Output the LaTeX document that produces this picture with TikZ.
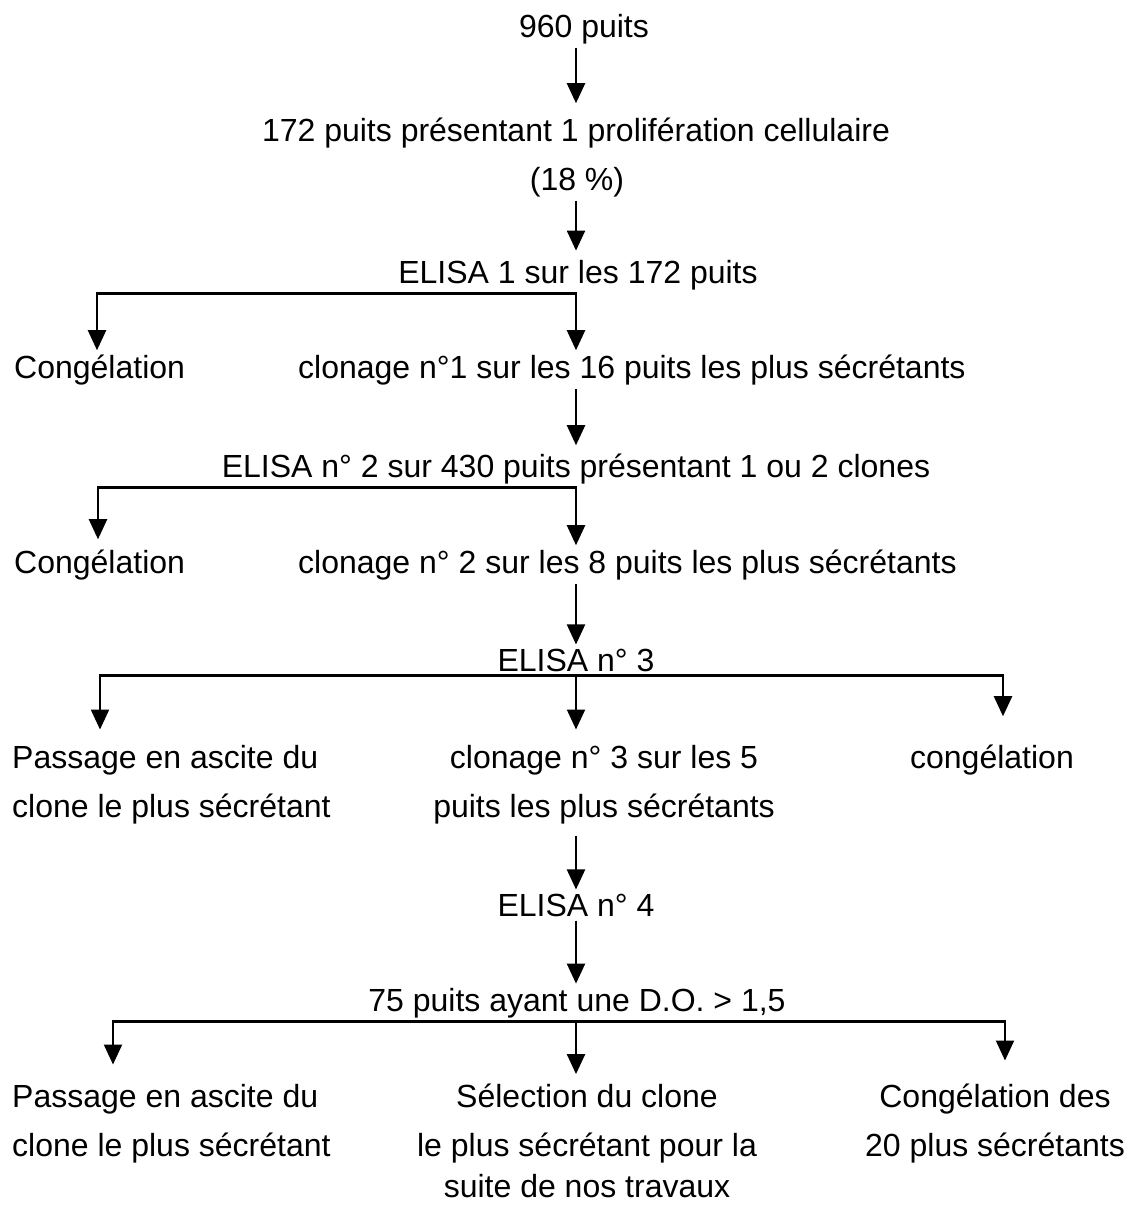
\documentclass[tikz,border=0pt]{standalone}
\usepackage{fontspec}
\setmainfont{Liberation Sans}
\usetikzlibrary{arrows.meta}
\begin{document}
\begin{tikzpicture}[x=1pt,y=-1pt,
  txt/.style={inner sep=4pt, font=\fontsize{32}{48}\selectfont},
  arr/.style={line width=2.2pt, -{Triangle[length=20pt,width=18pt]}},
  brl/.style={line width=2.8pt, line cap=rect}]
\useasboundingbox (0,0) rectangle (1133,1208);
% axis coordinates
\coordinate (ax) at (576,0);
\coordinate (xl1) at (97,0);
\coordinate (xl2) at (98,0);
\coordinate (xl3) at (100,0);
\coordinate (xl4) at (113,0);
\coordinate (xr3) at (1003,0);
\coordinate (xr4) at (1005,0);
% texts
\node[txt, anchor=base] (n1) at (584,37) {960 puits};
\node[txt, anchor=base] (n2) at (576,141) {172 puits présentant 1 prolifération cellulaire};
\node[txt, anchor=base] (n3) at (577,190) {(18 \%)};
\node[txt, anchor=base] (n4) at (578,283) {ELISA 1 sur les 172 puits};
\node[txt, anchor=base west] (c1) at (10,378) {Congélation};
\node[txt, anchor=base west] (k1) at (294,378) {clonage n°1 sur les 16 puits les plus sécrétants};
\node[txt, anchor=base] (n5) at (576,477) {ELISA n° 2 sur 430 puits présentant 1 ou 2 clones};
\node[txt, anchor=base west] (c2) at (10,573) {Congélation};
\node[txt, anchor=base west] (k2) at (294,573) {clonage n° 2 sur les 8 puits les plus sécrétants};
\node[txt, anchor=base] (n6) at (576,671) {ELISA n° 3};
\node[txt, anchor=base west] (p3) at (8,768) {\fontsize{32}{49}\selectfont\begin{tabular}[t]{@{}l@{}}Passage en ascite du\\clone le plus sécrétant\end{tabular}};
\node[txt, anchor=base] (k3) at (604,768) {\fontsize{32}{49}\selectfont\begin{tabular}[t]{@{}c@{}}clonage n° 3 sur les 5\\puits les plus sécrétants\end{tabular}};
\node[txt, anchor=base] (g3) at (992,768) {congélation};
\node[txt, anchor=base] (n7) at (576,916) {ELISA n° 4};
\node[txt, anchor=base] (n8) at (577,1011) {75 puits ayant une D.O. > 1,5};
\node[txt, anchor=base west] (p4) at (8,1107) {\fontsize{32}{49}\selectfont\begin{tabular}[t]{@{}l@{}}Passage en ascite du\\clone le plus sécrétant\end{tabular}};
\node[txt, anchor=base] (s4) at (587,1107) {\fontsize{32}{41}\selectfont\begin{tabular}[t]{@{}c@{}}Sélection du clone\\[8pt]le plus sécrétant pour la\\suite de nos travaux\end{tabular}};
\node[txt, anchor=base] (g4) at (995,1107) {\fontsize{32}{49}\selectfont\begin{tabular}[t]{@{}c@{}}Congélation des\\20 plus sécrétants\end{tabular}};
% branch points
\coordinate (b1) at (n4.south -| ax);
\coordinate (b2) at (n5.south -| ax);
\coordinate (b3) at (n6.south -| ax);
\coordinate (b4) at (n8.south -| ax);
% straight arrows
\draw[arr, shorten >=10pt] (n1.south -| ax) -- (n2.north -| ax);
\draw[arr, shorten >=5pt] (n3.south -| ax) -- (n4.north -| ax);
\draw[arr, shorten >=4pt] (k1.south -| ax) -- (n5.north -| ax);
\draw[arr] (k2.south -| ax) -- (n6.north -| ax);
\draw[arr] (k3.south -| ax) -- (n7.north -| ax);
\draw[arr] (n7.south -| ax) -- (n8.north -| ax);
% branch 1
\draw[brl] (xl1 |- b1) -- (b1);
\draw[arr] (xl1 |- b1) -- (c1.north -| xl1);
\draw[arr] (b1) -- (k1.north -| ax);
% branch 2
\draw[brl] (xl2 |- b2) -- (b2);
\draw[arr, shorten >=6pt] (xl2 |- b2) -- (c2.north -| xl2);
\draw[arr] (b2) -- (k2.north -| ax);
% branch 3
\draw[brl] (xl3 |- b3) -- (xr3 |- b3);
\draw[arr] (xl3 |- b3) -- (p3.north -| xl3);
\draw[arr] (b3) -- (k3.north -| ax);
\draw[arr, shorten >=24pt] (xr3 |- b3) -- (g3.north -| xr3);
% branch 4
\draw[brl] (xl4 |- b4) -- (xr4 |- b4);
\draw[arr, shorten >=4pt] (xl4 |- b4) -- (p4.north -| xl4);
\draw[arr] (b4) -- (s4.north -| ax);
\draw[arr, shorten >=8pt] (xr4 |- b4) -- (g4.north -| xr4);
\end{tikzpicture}
\end{document}
